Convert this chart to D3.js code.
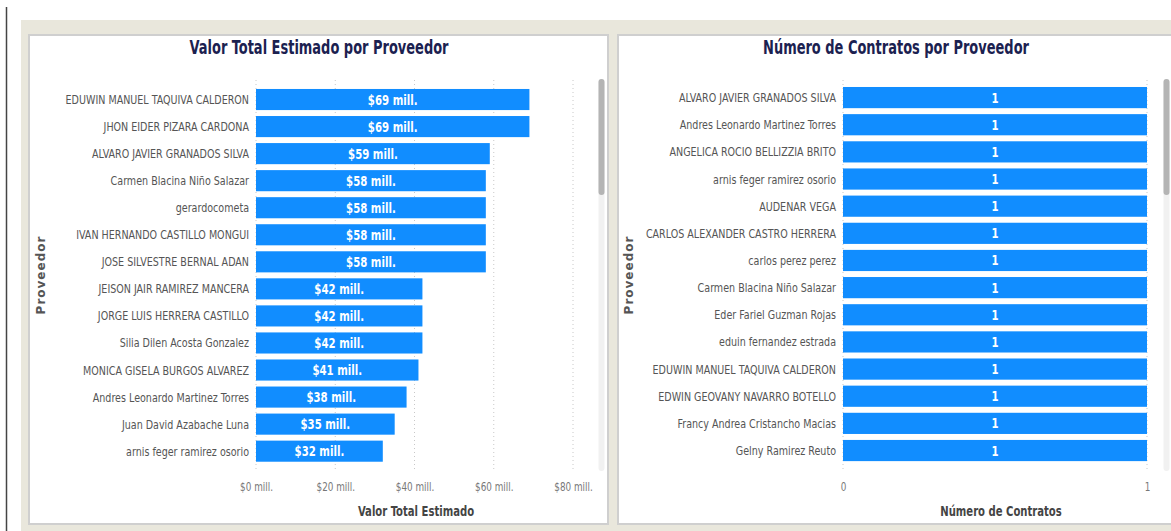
<!DOCTYPE html>
<html><head><meta charset="utf-8">
<script src="https://cdn.jsdelivr.net/npm/d3@7"></script>
<style>
html,body{margin:0;padding:0;background:#fff;}
svg{display:block;}
</style>
</head><body>
<svg id="c" width="1171" height="531"></svg>
<script>
const valorProveedores = ["EDUWIN MANUEL TAQUIVA CALDERON","JHON EIDER PIZARA CARDONA","ALVARO JAVIER GRANADOS SILVA","Carmen Blacina Niño Salazar","gerardocometa","IVAN HERNANDO CASTILLO MONGUI","JOSE SILVESTRE BERNAL ADAN","JEISON JAIR RAMIREZ MANCERA","JORGE LUIS HERRERA CASTILLO","Silia Dilen Acosta Gonzalez","MONICA GISELA BURGOS ALVAREZ","Andres Leonardo Martinez Torres","Juan David Azabache Luna","arnis feger ramirez osorio"];
const valorMill = [69,69,59,58,58,58,58,42,42,42,41,38,35,32];
const valorTicks = [0,20,40,60,80];

const contratosProveedores = ["ALVARO JAVIER GRANADOS SILVA","Andres Leonardo Martinez Torres","ANGELICA ROCIO BELLIZZIA BRITO","arnis feger ramirez osorio","AUDENAR VEGA","CARLOS ALEXANDER CASTRO HERRERA","carlos perez perez","Carmen Blacina Niño Salazar","Eder Fariel Guzman Rojas","eduin fernandez estrada","EDUWIN MANUEL TAQUIVA CALDERON","EDWIN GEOVANY NAVARRO BOTELLO","Francy Andrea Cristancho Macias","Gelny Ramirez Reuto"];
const contratosValores = [1,1,1,1,1,1,1,1,1,1,1,1,1,1];
const contratosTicks = [0,1];

const svg = d3.select("#c");
const FONT = '"DejaVu Sans Condensed","DejaVu Sans",sans-serif';

// background
svg.append("rect").attr("x",0).attr("y",0).attr("width",1171).attr("height",531).attr("fill","#fff");
svg.append("rect").attr("x",21).attr("y",20).attr("width",1150).attr("height",511).attr("fill","#e9e7dc");
svg.append("line").attr("x1",6.5).attr("x2",6.5).attr("y1",7).attr("y2",531).attr("stroke","#444").attr("stroke-width",1.5);

function panel(x,y,w,h){
  svg.append("rect").attr("x",x).attr("y",y).attr("width",w).attr("height",h)
    .attr("fill","#fff").attr("stroke","#cfcfcf").attr("stroke-width",2);
}
panel(29,35,579,489);
panel(618,35,560,489);

// condensed text helper: text drawn at (x,y) squeezed horizontally by sx
function ctext(parent, x, y, sx, txt){
  return parent.append("text").attr("transform",`translate(${x},${y}) scale(${sx},1)`).text(txt);
}

function chart(opt){
  const g = svg.append("g");
  const x = d3.scaleLinear().domain(opt.domain).range([opt.x0,opt.x1]);
  const y = d3.scaleBand().domain(opt.cats).range([opt.yTop, opt.yTop + opt.step*opt.cats.length]).paddingInner(0.22).paddingOuter(0.11);
  // grid
  g.selectAll("line.grid").data(opt.ticks).join("line")
    .attr("x1",d=>x(d)).attr("x2",d=>x(d)).attr("y1",opt.gridTop).attr("y2",opt.gridBot)
    .attr("stroke","#c8c8c8").attr("stroke-width",1).attr("stroke-dasharray","1,3");
  // bars
  g.selectAll("rect.bar").data(opt.vals).join("rect")
    .attr("x",x(0)).attr("y",(d,i)=>y(opt.cats[i])).attr("width",d=>x(d)-x(0)).attr("height",y.bandwidth())
    .attr("fill","#118dff");
  // data labels
  g.selectAll("text.dl").data(opt.vals).join("text")
    .attr("transform",(d,i)=>`translate(${(x(0)+x(d))/2},${y(opt.cats[i])+y.bandwidth()/2+5}) scale(0.78,1)`)
    .attr("text-anchor","middle").attr("fill","#fff").attr("font-family",FONT).attr("font-weight","bold")
    .attr("font-size",14.5).text(opt.fmt);
  // category axis
  const ya = d3.axisLeft(y).tickSize(0).tickPadding(0);
  const yg = g.append("g").attr("transform",`translate(${x(0)},0)`).call(ya);
  yg.select(".domain").remove();
  yg.selectAll("text").attr("x",null).attr("dy",null)
    .attr("transform","translate(-7,4.5) scale(0.885,1)")
    .attr("font-family",FONT).attr("font-size",12).attr("fill","#555");
  // value axis
  const xa = d3.axisBottom(x).tickValues(opt.ticks).tickSize(0).tickPadding(0).tickFormat(opt.tickFmt);
  const xg = g.append("g").attr("transform",`translate(0,${opt.tickY})`).call(xa);
  xg.select(".domain").remove();
  xg.selectAll("text").attr("y",null).attr("dy",null)
    .attr("transform","translate(0,11) scale(0.82,1)")
    .attr("font-family",FONT).attr("font-size",12).attr("fill","#777");
  // titles
  ctext(g, opt.titleX, 54, 0.76, opt.title).attr("text-anchor","middle")
    .attr("font-family",FONT).attr("font-weight","bold").attr("font-size",19).attr("fill","#1b2150");
  ctext(g, opt.xtX, 516, 0.8, opt.xTitle).attr("text-anchor","middle")
    .attr("font-family",FONT).attr("font-weight","bold").attr("font-size",14).attr("fill","#444");
  g.append("text").attr("transform",`translate(${opt.ytX},275) rotate(-90)`).attr("text-anchor","middle")
    .attr("font-family","'DejaVu Sans',sans-serif").attr("font-weight","bold").attr("font-size",12).attr("letter-spacing",1)
    .attr("fill","#555").text("Proveedor");
  // scrollbar
  g.append("rect").attr("x",opt.sbX).attr("y",79).attr("width",6).attr("height",392).attr("rx",3).attr("fill","#f1f1f1");
  g.append("rect").attr("x",opt.sbX).attr("y",79).attr("width",6).attr("height",116).attr("rx",3).attr("fill","#b4b4b4");
}

chart({cats:valorProveedores, vals:valorMill, domain:[0,80], x0:256, x1:573, ticks:valorTicks,
  yTop:86, step:27.05, gridTop:80, gridBot:472, tickY:480,
  fmt:d=>`$${d} mill.`, tickFmt:d=>`$${d} mill.`,
  title:"Valor Total Estimado por Proveedor", titleX:319, xTitle:"Valor Total Estimado", xtX:416, ytX:45, sbX:598.5});

chart({cats:contratosProveedores, vals:contratosValores, domain:[0,1], x0:843, x1:1147, ticks:contratosTicks,
  yTop:84, step:27.15, gridTop:80, gridBot:472, tickY:480,
  fmt:d=>`${d}`, tickFmt:d=>`${d}`,
  title:"Número de Contratos por Proveedor", titleX:896, xTitle:"Número de Contratos", xtX:1001, ytX:633, sbX:1163.5});
</script>
</body></html>
